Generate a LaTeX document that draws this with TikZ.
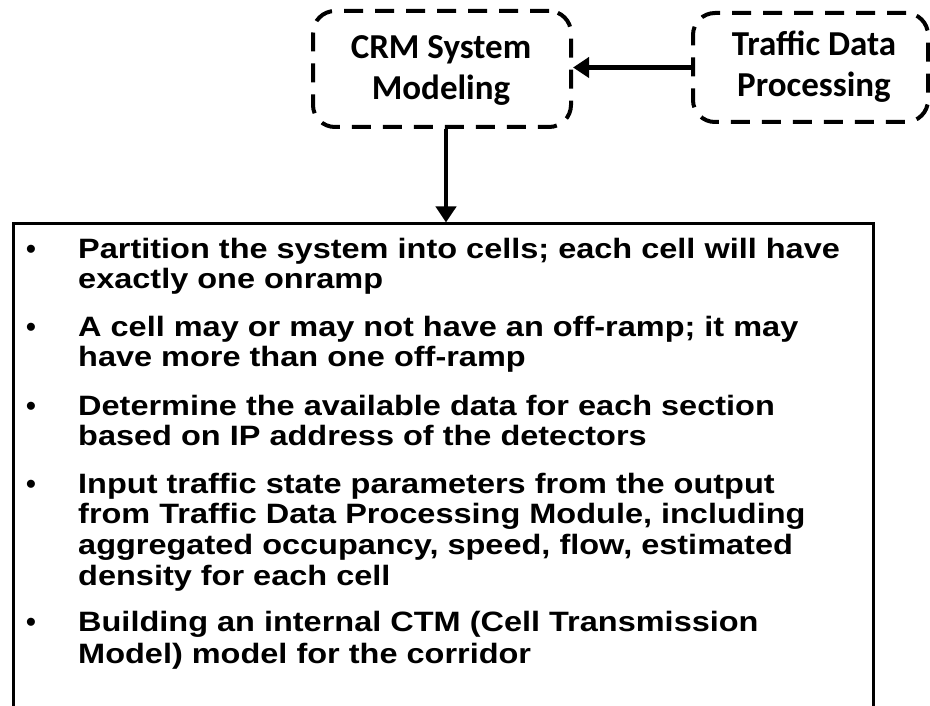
\documentclass[tikz,border=0pt]{standalone}
\usepackage{fontspec}
\setmainfont{Liberation Sans}
\newfontfamily\calibrifont{Carlito}
\newfontfamily\listfont[FakeStretch=1.16]{Liberation Sans}
\usetikzlibrary{arrows.meta}
\begin{document}
\begin{tikzpicture}[x=1pt,y=-1pt,
  dbox/.style={draw, line width=4pt, dash pattern=on 19pt off 12pt,
    rounded corners=22pt, inner sep=0pt},
  boxtext/.style={anchor=base, inner sep=0pt, font=\calibrifont\bfseries\fontsize{35}{41}\selectfont},
  listbox/.style={draw, line width=2.75pt, inner sep=0pt, anchor=north west,
    minimum width=860pt, minimum height=520pt},
  item/.style={anchor=base west, inner sep=0pt, font=\listfont\bfseries\fontsize{28}{31}\selectfont},
  bul/.style={anchor=base, inner sep=0pt, font=\bfseries\fontsize{28}{31}\selectfont},
  arr/.style={line width=4.5pt, -{Triangle[width=20pt,length=16pt]}}]
\useasboundingbox (0,0) rectangle (930,706);

% dashed boxes
\node[dbox, minimum width=258pt, minimum height=116pt] (crm) at (442,69) {};
\node[dbox, minimum width=235pt, minimum height=109pt] (tdp) at (810.5,67.5) {};
\node[boxtext] (crm1) at (441,59) {CRM System};
\node[boxtext] (crm2) at (441,100) {Modeling};
\node[boxtext] (tdp1) at (814,56) {Traffic Data};
\node[boxtext] (tdp2) at (814,97) {Processing};

% list box
\node[listbox] (list) at (12,222.5) {};

% connectors
\draw[arr] (tdp.west) -- (tdp.west -| crm.east);
\draw[arr] ([xshift=4pt]crm.south) -- ([xshift=4pt]crm.south |- list.north);

% bullets
\node[bul] (b1) at (31,258.3) {•};
\node[bul] (b2) at (31,336) {•};
\node[bul] (b3) at (31,415) {•};
\node[bul] (b4) at (31,493.3) {•};
\node[bul] (b5) at (31,631.7) {•};

% list lines
\node[item] (l1) at (78,258.3) {Partition the system into cells; each cell will have};
\node[item] (l2) at (78,288.3) {exactly one onramp};
\node[item] (l3) at (78,336) {A cell may or may not have an off-ramp; it may};
\node[item] (l4) at (78,366.7) {have more than one off-ramp};
\node[item] (l5) at (78,415) {Determine the available data for each section};
\node[item] (l6) at (78,445.7) {based on IP address of the detectors};
\node[item] (l7) at (78,493.3) {Input traffic state parameters from the output};
\node[item] (l8) at (78,523.3) {from Traffic Data Processing Module, including};
\node[item] (l9) at (78,554.3) {aggregated occupancy, speed, flow, estimated};
\node[item] (l10) at (78,585) {density for each cell};
\node[item] (l11) at (78,631.7) {Building an internal CTM (Cell Transmission};
\node[item] (l12) at (78,663.3) {Model) model for the corridor};
\end{tikzpicture}
\end{document}
